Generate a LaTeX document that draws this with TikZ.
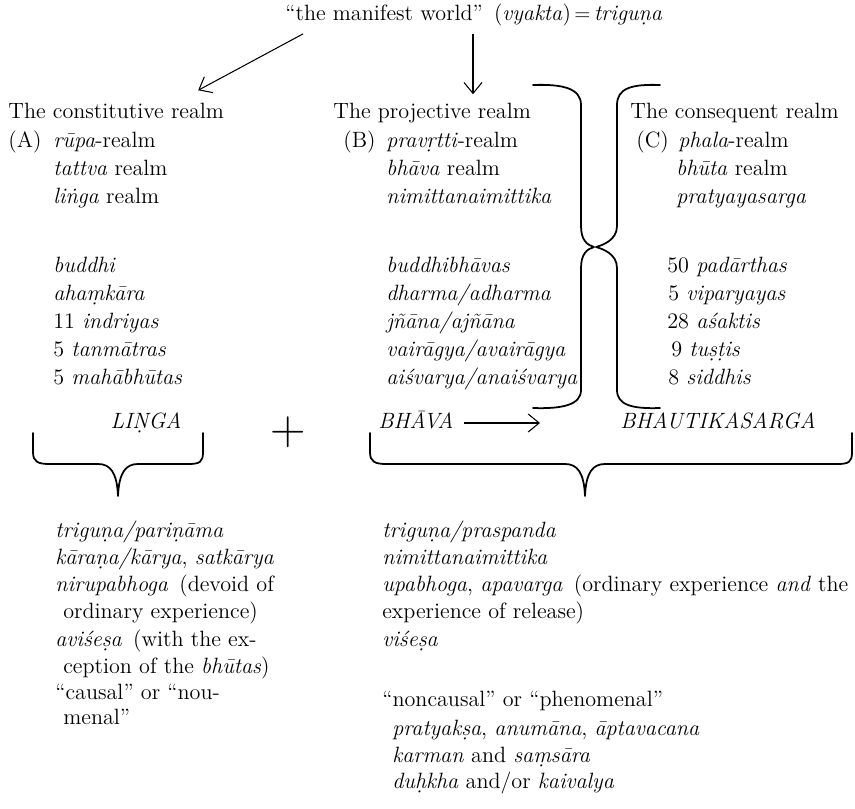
\documentclass[tikz,border=0pt]{standalone}
\usepackage{tikz}
\usetikzlibrary{arrows.meta,positioning,calc}

\begin{document}
\begin{tikzpicture}[
    x=0.02cm, y=-0.02cm,
    line/.style={anchor=base west, inner sep=0pt, font=\fontsize{12.6}{15}\selectfont},
    capital/.style={line, font=\fontsize{12.6}{15}\selectfont\itshape},
    arrow/.style={-{Straight Barb[length=2.2mm,width=3.6mm]}, semithick},
    brace/.style={line width=1pt, line cap=round, line join=round}
]
    \useasboundingbox (0,0) rectangle (855,808);

    % title
    \node[line] (world) at (285,20) {``the manifest world''\enspace (\textit{vyakta})$\,=\,$\textit{triguṇa}};

    % the three realms
    \node[line] (consti) at (8,118) {The constitutive realm};
    \node[line] (proj) at (333,118) {The projective realm};
    \node[line] (conseq) at (630,118) {The consequent realm};

    \node[line] (la) at (8,147) {(A)};
    \node[line] (lb) at (343,147) {(B)};
    \node[line] (lc) at (636,147) {(C)};

    \foreach \y/\a/\b/\cx/\c [count=\i] in {
        147/{\textit{rūpa}-realm}/{\textit{pravṛtti}-realm}/678/{\textit{phala}-realm},
        175/{\textit{tattva} realm}/{\textit{bhāva} realm}/676/{\textit{bhūta} realm},
        203/{\textit{liṅga} realm}/{\textit{nimittanaimittika}}/676/{\textit{pratyayasarga}},
        272/{\textit{buddhi}}/{\textit{buddhibhāvas}}/667/{50 \textit{padārthas}},
        300/{\textit{ahaṃkāra}}/{\textit{dharma/adharma}}/668/{5 \textit{viparyayas}},
        328/{11 \textit{indriyas}}/{\textit{jñāna/ajñāna}}/667/{28 \textit{aśaktis}},
        356/{5 \textit{tanmātras}}/{\textit{vairāgya/avairāgya}}/671/{9 \textit{tuṣṭis}},
        384/{5 \textit{mahābhūtas}}/{\textit{aiśvarya/anaiśvarya}}/668/{8 \textit{siddhis}}}
    {
        \node[line] (a\i) at (53,\y) {\a};
        \node[line] (b\i) at (386,\y) {\b};
        \node[line] (c\i) at (\cx,\y) {\c};
    }

    \draw[arrow] ($(world.south west)+(18,8)$) -- ($(consti.north)+(82,-12)$);
    \draw[arrow] ($(world.south west)+(188,8)$) -- ($(world.south west |- proj.north)+(188,-8)$);

    % braces between the projective and the consequent realm
    \draw[brace] (533,85) .. controls (562,84) and (581,88) .. (581,105) -- (581,226)
        .. controls (581,240) and (587,245) .. (594,247)
        .. controls (587,249) and (581,254) .. (581,268) -- (581,390)
        .. controls (581,405) and (562,409) .. (533,408);
    \draw[brace] (660,85) .. controls (632,84) and (617,88) .. (617,105) -- (617,226)
        .. controls (617,240) and (603,245) .. (596,247)
        .. controls (603,249) and (617,254) .. (617,268) -- (617,390)
        .. controls (617,405) and (632,409) .. (660,408);

    % the sum
    \node[capital, anchor=base] (linga) at (146,428) {LIṆGA};
    \node[inner sep=0pt, font=\fontsize{28}{28}\selectfont] (plus) at (288,432) {+};
    \node[capital] (bhava) at (378,428) {BHĀVA};
    \node[capital] (bhautika) at (620,428) {BHAUTIKASARGA};
    \draw[arrow] ($(bhava.base east)+(10,-5)$) -- ($(bhautika.base west)+(-80,-5)$);

    \draw[brace] (33,433) -- (33,452) .. controls (33,462) and (38,464) .. (50,464) -- (98,464)
        .. controls (110,464) and (117,472) .. (118,496)
        .. controls (119,472) and (126,464) .. (138,464) -- (188,464)
        .. controls (200,464) and (203,462) .. (203,452) -- (203,433);
    \draw[brace] (370,433) -- (370,452) .. controls (370,462) and (375,464) .. (387,464) -- (565,464)
        .. controls (577,464) and (584,472) .. (585,496)
        .. controls (586,472) and (593,464) .. (605,464) -- (837,464)
        .. controls (849,464) and (852,462) .. (852,452) -- (852,433);

    % below LINGA
    \foreach \y/\x/\t [count=\i] in {
        537/55/{\textit{triguṇa/pariṇāma}},
        564/55/{\textit{kāraṇa/kārya}, \textit{satkārya}},
        591/55/{\textit{nirupabhoga}\enspace(devoid of},
        618/63/{ordinary experience)},
        646/55/{\textit{aviśeṣa}\enspace(with the ex-},
        673/63/{ception of the \textit{bhūtas})},
        699/55/{``causal'' or ``nou-},
        724/63/{menal''}}
    {
        \node[line] (l\i) at (\x,\y) {\t};
    }

    % below BHAVA and BHAUTIKASARGA
    \foreach \y/\x/\t [count=\i] in {
        537/382/{\textit{triguṇa/praspanda}},
        564/382/{\textit{nimittanaimittika}},
        591/382/{\textit{upabhoga}, \textit{apavarga}\enspace(ordinary experience \textit{and} the},
        618/382/{experience of release)},
        646/382/{\textit{viśeṣa}},
        706/382/{``noncausal'' or ``phenomenal''},
        735/392/{\textit{pratyakṣa}, \textit{anumāna}, \textit{āptavacana}},
        762/392/{\textit{karman} and \textit{saṃsāra}},
        788/392/{\textit{duḥkha} and/or \textit{kaivalya}}}
    {
        \node[line] (r\i) at (\x,\y) {\t};
    }
\end{tikzpicture}
\end{document}
